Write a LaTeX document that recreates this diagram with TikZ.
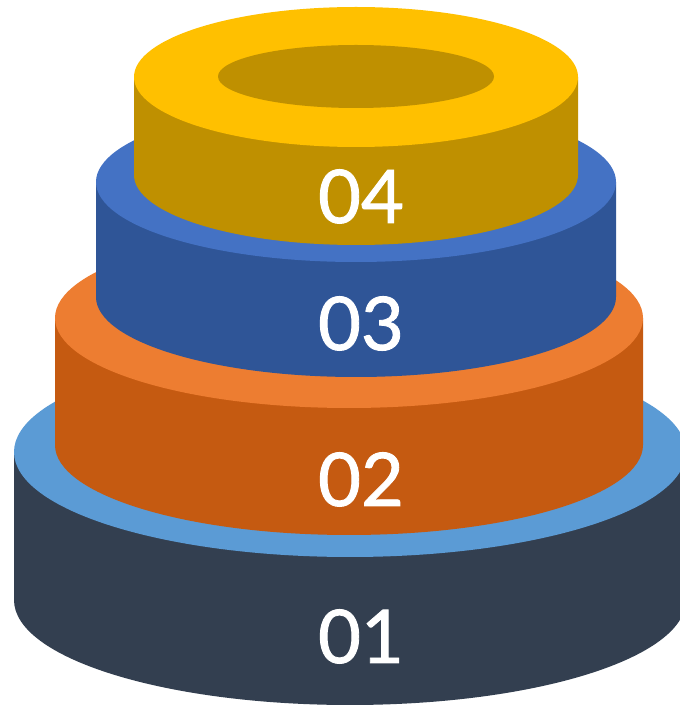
\documentclass[tikz,border=0pt]{standalone}
\usepackage{fontspec}
\setmainfont{Lato}
\newfontfamily\lblfont[FakeBold=1.2]{Lato}
\definecolor{sideA}{HTML}{333F50}
\definecolor{topA}{HTML}{5B9BD5}
\definecolor{sideB}{HTML}{C55A11}
\definecolor{topB}{HTML}{ED7D31}
\definecolor{sideC}{HTML}{2F5597}
\definecolor{topC}{HTML}{4472C4}
\definecolor{sideD}{HTML}{BF9000}
\definecolor{topD}{HTML}{FFC000}
\tikzset{
  lbl/.style={text=white, font=\lblfont\fontsize{74}{74}\selectfont, anchor=base, inner sep=0pt}
}
% #1 cx, #2 top y, #3 bottom y, #4 a, #5 b, #6 side colour, #7 top colour
\newcommand{\mycyl}[7]{%
  \fill[#6] (#1-#4,#2) -- (#1-#4,#3) arc[start angle=180,end angle=360,x radius=#4pt,y radius=#5pt] -- (#1+#4,#2) -- cycle;
  \fill[#7] (#1,#2) ellipse[x radius=#4pt,y radius=#5pt];
}
\begin{document}
\begin{tikzpicture}[x=1pt,y=1pt]
\useasboundingbox (0,0) rectangle (680,705);
\begin{scope}
\clip (0,0) rectangle (680,705);
\mycyl{350}{253}{105}{336}{105}{sideA}{topA}
\mycyl{349}{387}{260}{294}{90}{sideB}{topB}
\mycyl{356}{523}{408}{260}{80}{sideC}{topC}
\mycyl{356}{628}{530}{222}{70}{sideD}{topD}
\fill[sideD] (356,628.5) ellipse[x radius=138pt,y radius=31.5pt];
\end{scope}
\node[lbl] (l1) at (361,42) {01};
\node[lbl] (l2) at (361,199) {02};
\node[lbl] (l3) at (361,355) {03};
\node[lbl] (l4) at (361,482) {04};
\end{tikzpicture}
\end{document}
